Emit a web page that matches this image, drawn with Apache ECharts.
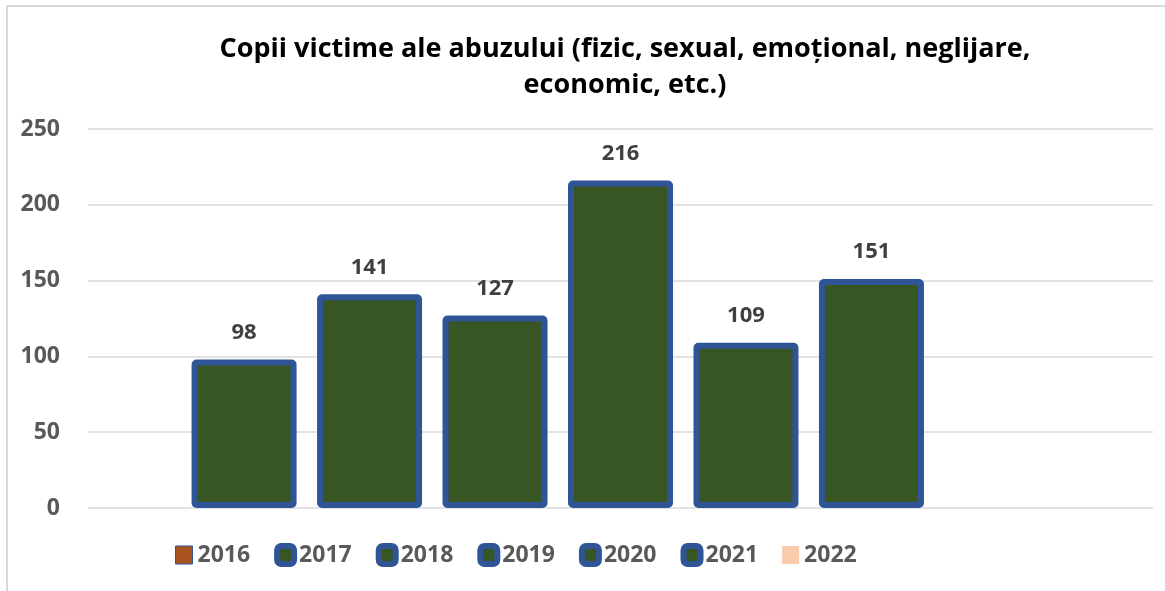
<!DOCTYPE html>
<html>
<head>
<meta charset="utf-8">
<script src="https://cdn.jsdelivr.net/npm/echarts@6/dist/echarts.min.js"></script>
<style>
html,body{margin:0;padding:0;background:#fff;}
#chart{width:1165px;height:591px;}
</style>
</head>
<body>
<div id="chart"></div>
<script>
const titleText = 'Copii victime ale abuzului (fizic, sexual, emoțional, neglijare,\neconomic, etc.)';
const years = ['2016', '2017', '2018', '2019', '2020', '2021', '2022'];
const values = [98, 141, 127, 216, 109, 151, null];
const yTicks = [0, 50, 100, 150, 200, 250];

const chart = echarts.init(document.getElementById('chart'), null, {renderer: 'canvas'});

const series = years.map((y, i) => ({
  name: y,
  type: 'bar',
  data: [values[i]],
  barWidth: 105,
  barGap: '19.5%',
  itemStyle: {
    color: '#375623',
    borderColor: '#2F5597',
    borderWidth: 6,
    borderRadius: 2
  },
  label: {
    show: values[i] != null,
    position: 'top',
    distance: 16,
    color: '#404040',
    fontFamily: 'Open Sans',
    fontWeight: 'bold',
    fontSize: 22
  }
}));

chart.setOption({
  animation: false,
  backgroundColor: '#fff',
  title: {
    text: titleText,
    left: 620,
    textAlign: 'center',
    top: 26,
    textStyle: {
      fontFamily: 'Open Sans',
      fontWeight: 'bold',
      fontSize: 27,
      lineHeight: 36,
      color: '#000'
    }
  },
  graphic: [{
    type: 'polyline',
    shape: {points: [[7, 591], [7, 6], [1165, 6]]},
    style: {stroke: '#D9D9D9', lineWidth: 2, fill: null},
    silent: true
  }],
  legend: {
    data: years.map((y, i) => ({
      name: y,
      icon: (i === 0 || i === 6) ? 'rect' : 'roundRect',
      itemStyle: i === 0 ? {color: '#A9541F', borderColor: '#2F5597', borderWidth: 1}
        : i === 6 ? {color: '#F8CBAD', borderWidth: 0}
        : {color: '#375623', borderColor: '#2F5597', borderWidth: 6}
    })),
    left: 175,
    top: 543,
    padding: 0,
    itemWidth: 17,
    itemHeight: 18,
    itemGap: 24,
    textStyle: {
      fontFamily: 'Open Sans',
      fontWeight: 'bold',
      fontSize: 23,
      color: '#595959'
    }
  },
  grid: {left: 88, right: 12, top: 129, bottom: 83, containLabel: false},
  xAxis: {
    type: 'category',
    data: [''],
    axisLine: {show: false},
    axisTick: {show: false},
    axisLabel: {show: false}
  },
  yAxis: {
    type: 'value',
    min: 0,
    max: 250,
    interval: 50,
    axisLine: {show: false},
    axisTick: {show: false},
    axisLabel: {
      margin: 28,
      color: '#595959',
      fontFamily: 'Open Sans',
      fontWeight: 'bold',
      fontSize: 23,
      formatter: v => yTicks.includes(v) ? String(v) : ''
    },
    splitLine: {lineStyle: {color: '#D9D9D9', width: 1.5}}
  },
  series: series
});
</script>
</body>
</html>
